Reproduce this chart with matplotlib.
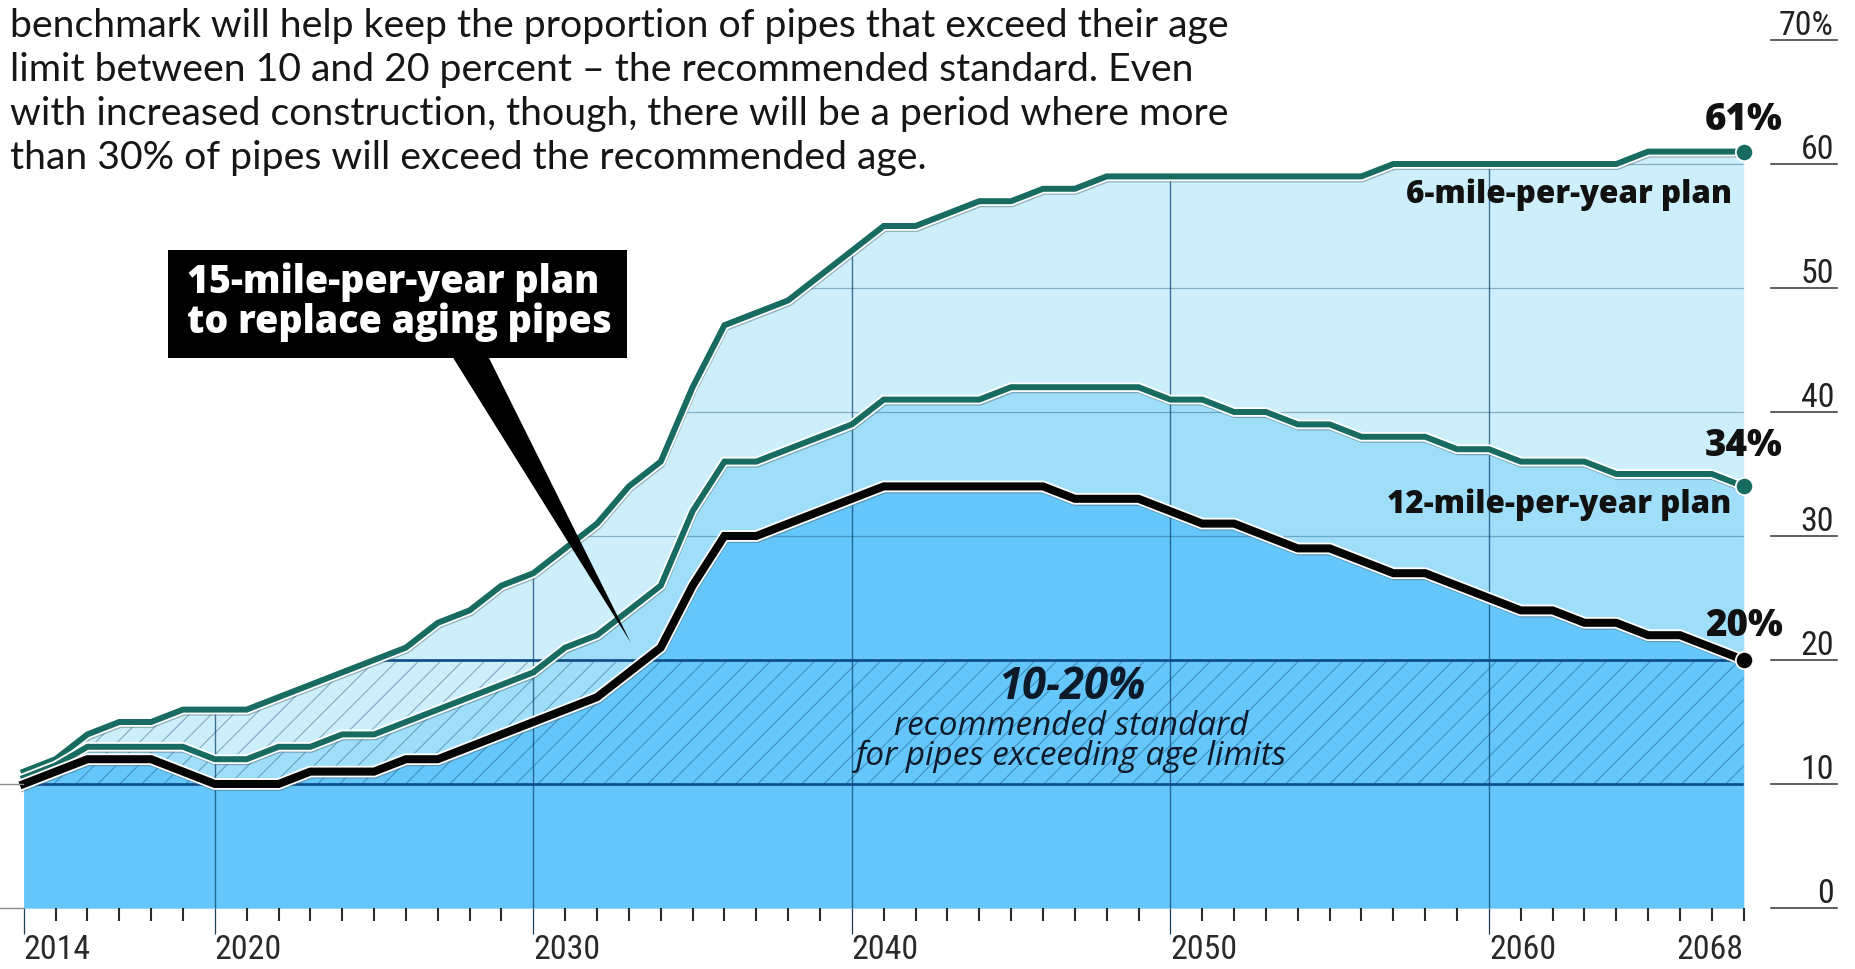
import numpy as np
import matplotlib
matplotlib.use("Agg")
import matplotlib.pyplot as plt
from matplotlib import patheffects as pe
from matplotlib import font_manager as fm
from matplotlib.font_manager import FontProperties
from matplotlib.collections import LineCollection
from matplotlib.patches import Polygon, Rectangle
from matplotlib.path import Path
from matplotlib.transforms import IdentityTransform, blended_transform_factory

# ---------------------------------------------------------------- data
years = np.arange(2014, 2069)

# Share of pipes exceeding their age limit (%) under each replacement plan
plan_6_mile = [11, 12, 14, 15, 15, 16, 16, 16, 17, 18, 19, 20, 21, 23, 24, 26, 27,
               29, 31, 34, 36, 42, 47, 48, 49, 51, 53, 55, 55, 56, 57, 57, 58, 58,
               59, 59, 59, 59, 59, 59, 59, 59, 59,
               60, 60, 60, 60, 60, 60, 60, 60,
               61, 61, 61, 61]
plan_12_mile = [10.5, 11.5, 13, 13, 13, 13, 12, 12, 13, 13, 14, 14, 15, 16, 17, 18,
                19, 21, 22, 24, 26, 32, 36, 36, 37, 38, 39, 41, 41, 41, 41,
                42, 42, 42, 42, 42, 41, 41, 40, 40, 39, 39, 38, 38, 38, 37, 37,
                36, 36, 36, 35, 35, 35, 35, 34]
plan_15_mile = [10, 11, 12, 12, 12, 11, 10, 10, 10, 11, 11, 11, 12, 12, 13, 14, 15,
                16, 17, 19, 21, 26, 30, 30, 31, 32, 33, 34, 34, 34, 34, 34, 34,
                33, 33, 33, 32, 31, 31, 30, 29, 29, 28, 27, 27, 26, 25, 24, 24,
                23, 23, 22, 22, 21, 20]

standard_low, standard_high = 10, 20
grid_levels = [30, 40, 50, 60]
y_ticks = [0, 10, 20, 30, 40, 50, 60, 70]
y_tick_labels = ["0", "10", "20", "30", "40", "50", "60", "70%"]
x_major = [2014, 2020, 2030, 2040, 2050, 2060]
x_labeled = [2014, 2020, 2030, 2040, 2050, 2060, 2068]
x_gridlines = [2020, 2030, 2040, 2050, 2060]

intro_lines = [
    "benchmark will help keep the proportion of pipes that exceed their age",
    "limit between 10 and 20 percent \u2013 the recommended standard. Even",
    "with increased construction, though, there will be a period where more",
    "than 30% of pipes will exceed the recommended age.",
]
callout_lines = ["15-mile-per-year plan", "to replace aging pipes"]
band_title = "10-20%"
band_lines = ["recommended standard", "for pipes exceeding age limits"]

# ---------------------------------------------------------------- fonts
_faces = fm.fontManager.ttflist
_names = {f.name for f in _faces}


def pick(*names):
    for n in names:
        if n in _names:
            return n
    return "DejaVu Sans"


def pick_italic(*names):
    for n in names:
        if any(f.name == n and f.style == "italic" for f in _faces):
            return n
    return "DejaVu Sans"


def heaviest(name, cap=800):
    ws = [f.weight for f in _faces if f.name == name and f.style == "normal"
          and isinstance(f.weight, int) and f.weight <= cap]
    return max(ws) if ws else "bold"


def light_props():
    """Condensed face for the scale numbers, or a light/regular face as fallback."""
    for n in ("Liberation Sans Narrow", "Roboto Condensed", "Open Sans Condensed",
              "Noto Sans Condensed", "DejaVu Sans Condensed"):
        if n in _names:
            return FontProperties(family=n)
    for n in ("Noto Sans", "Open Sans", "Roboto", "DejaVu Sans"):
        for f in _faces:
            if f.name == n and f.stretch in ("condensed", "semi-condensed") \
                    and f.style == "normal" and f.weight in (300, 400):
                return FontProperties(family=n, stretch=f.stretch, weight=f.weight)
    for n in ("Lato", "Roboto", "Open Sans"):
        for f in _faces:
            if f.name == n and f.style == "normal" and f.weight == 300:
                return FontProperties(family=n, weight=300)
    return FontProperties(family=pick("Liberation Sans", "DejaVu Sans"))


body_font = pick("Lato", "Open Sans", "Noto Sans", "DejaVu Sans")
bold_font = pick("Open Sans", "Lato", "Noto Sans", "DejaVu Sans")
bold_weight = heaviest(bold_font)
italic_font = pick_italic("Open Sans", "Lato", "Noto Sans", "Roboto", "DejaVu Sans")
num_props = light_props()

# ---------------------------------------------------------------- colours
c_light = "#cdeffb"
c_mid = "#9fdef8"
c_dark = "#64c6fa"
teal = "#176b61"
navy = "#0c4a86"
ink = "#0d1a2a"

# ---------------------------------------------------------------- figure
W, H, DPI = 1855, 969, 100
fig = plt.figure(figsize=(W / DPI, H / DPI), dpi=DPI)
fig.patch.set_facecolor("white")

ax = fig.add_axes([23.7 / W, 61 / H, 1720 / W, 868 / H])
ax.set_xlim(2014, 2068)
ax.set_ylim(0, 70)
ax.set_facecolor("none")
for s in ax.spines.values():
    s.set_visible(False)
ax.set_yticks([])

six = np.array(plan_6_mile, dtype=float)
twelve = np.array(plan_12_mile, dtype=float)
fifteen = np.array(plan_15_mile, dtype=float)

# stacked area fills
env = ax.fill_between(years, 0, six, color=c_light, lw=0, zorder=1)
ax.fill_between(years, 0, twelve, color=c_mid, lw=0, zorder=1.1)
ax.fill_between(years, 0, fifteen, color=c_dark, lw=0, zorder=1.2)
env_path = env.get_paths()[0]

# grid lines, only inside the filled area
for v in grid_levels:
    ln = ax.axhline(v, color=(0.12, 0.36, 0.5, 0.42), lw=0.9, zorder=2)
    ln.set_clip_path(env_path, ax.transData)
for x in x_gridlines:
    ln = ax.axvline(x, color=(0.05, 0.28, 0.45, 0.75), lw=1.0, zorder=2)
    ln.set_clip_path(env_path, ax.transData)

# hatched band for the recommended standard
band_top = np.minimum(six, standard_high)
verts = list(zip(years, band_top)) + list(zip(years[::-1], [standard_low] * len(years)))
band_path = Path(verts + [verts[0]], closed=True)
x0, y10 = ax.transData.transform((2014, standard_low))
x1, y20 = ax.transData.transform((2068, standard_high))
hh = y20 - y10
spacing = 22.0
segs = [[(xs, y10), (xs + hh, y20)] for xs in np.arange(x0 - hh, x1 + spacing, spacing)]
hatch = LineCollection(segs, colors=[(0.04, 0.24, 0.42, 0.42)], linewidths=0.75,
                       transform=IdentityTransform(), zorder=1.6)
hatch.set_clip_path(band_path, ax.transData)
ax.add_collection(hatch, autolim=False)

for v in (standard_low, standard_high):
    ln = ax.axhline(v, color=navy, lw=1.9, zorder=2.2)
    ln.set_clip_path(env_path, ax.transData)


def line_effects(lw):
    return [pe.Stroke(offset=(0.5, -1.4), linewidth=lw + 1.6, foreground="#4f6870", alpha=0.45),
            pe.Stroke(linewidth=lw + 2.6, foreground="white"),
            pe.Normal()]


ax.plot(years, six, color=teal, lw=4.3, solid_joinstyle="miter", zorder=4,
        clip_on=False, path_effects=line_effects(4.3))
ax.plot(years, twelve, color=teal, lw=4.3, solid_joinstyle="miter", zorder=4.1,
        clip_on=False, path_effects=line_effects(4.3))
ax.plot(years, fifteen, color="#050505", lw=5.8, solid_joinstyle="miter", zorder=4.2,
        clip_on=False, path_effects=line_effects(5.8))

for series, col in ((six, teal), (twelve, teal), (fifteen, "#050505")):
    ax.plot([years[-1]], [series[-1]], "o", ms=12.5, mfc=col, mec="white", mew=1.3,
            clip_on=False, zorder=6)

# ---------------------------------------------------------------- text helpers
fig.canvas.draw()
renderer = fig.canvas.get_renderer()


def fit(t, target_px):
    w = t.get_window_extent(renderer).width
    t.set_fontsize(t.get_fontsize() * target_px / w)
    return t.get_fontsize()


# intro paragraph
intro = []
for i, line in enumerate(intro_lines):
    intro.append(fig.text(10 / W, 1 - (37.5 + i * 43.7) / H, line, ha="left", va="baseline",
                          family=body_font, fontsize=22, color="#161616"))
size = fit(intro[0], 1216)
for t in intro[1:]:
    t.set_fontsize(size)

# end-point value labels
end_offsets = (22, 30, 24)
end_labels = []
for series, dy in zip((six, twelve, fifteen), end_offsets):
    end_labels.append(ax.annotate(f"{series[-1]:.0f}%", xy=(years[-1], series[-1]),
                                  xytext=(0, dy), textcoords="offset pixels", ha="center",
                                  va="baseline", family=bold_font, fontweight=bold_weight,
                                  fontsize=18, color="#111111", zorder=7,
                                  annotation_clip=False))
size = fit(end_labels[0], 78)
for t in end_labels[1:]:
    t.set_fontsize(size)

# plan name labels
lab6 = ax.annotate("6-mile-per-year plan", xy=(years[-1], six[-1]), xytext=(-12, -51),
                   textcoords="offset pixels", ha="right", va="baseline", family=bold_font,
                   fontweight=bold_weight, fontsize=18, color="#111111", zorder=7)
lab12 = ax.annotate("12-mile-per-year plan", xy=(years[-1], twelve[-1]), xytext=(-12, -27),
                    textcoords="offset pixels", ha="right", va="baseline", family=bold_font,
                    fontweight=bold_weight, fontsize=18, color="#111111", zorder=7)
size = fit(lab12, 343)
lab6.set_fontsize(size)

# recommended standard labels
mid_x = 2046.9
t1 = ax.text(mid_x, 16.85, band_title, ha="center", va="baseline", family=italic_font,
             style="italic", fontweight="bold", fontsize=22, color=ink, zorder=7)
fit(t1, 147)
t2 = ax.text(mid_x, 13.95, band_lines[0], ha="center", va="baseline", family=italic_font,
             style="italic", fontsize=18, color=ink, zorder=7)
t3 = ax.text(mid_x, 11.55, band_lines[1], ha="center", va="baseline", family=italic_font,
             style="italic", fontsize=18, color=ink, zorder=7)
size = fit(t3, 432)
t2.set_fontsize(size)

# right-hand value scale with underlines
tr = blended_transform_factory(fig.transFigure, ax.transData)
rlabels = []
for v, lab in zip(y_ticks, y_tick_labels):
    ax.plot([1771 / W, 1837 / W], [v, v], color="#333333", lw=1.1, transform=tr,
            clip_on=False, zorder=5)
    rlabels.append(ax.annotate(lab, xy=(1834 / W, v), xycoords=tr, xytext=(0, 5),
                               textcoords="offset pixels", ha="right", va="baseline",
                               fontproperties=num_props.copy(), fontsize=20,
                               color="#222222", annotation_clip=False))
scale_size = fit(rlabels[-1], 55)
for t in rlabels[:-1]:
    t.set_fontsize(scale_size)

# short stubs left of the plot at 0 and 10
for v in (0, standard_low):
    ax.plot([0, 23 / W], [v, v], color="#8d8d8d", lw=1.0, transform=tr, clip_on=False,
            zorder=5)

# x axis: long ticks at decades, short ticks every year, year labels beside the ticks
ax.set_xticks(x_major)
ax.set_xticks(years, minor=True)
ax.tick_params(axis="x", which="major", direction="out", length=19, width=0.9,
               color="#1d3f58", labelbottom=False)
ax.tick_params(axis="x", which="minor", direction="out", length=9, width=1.5,
               color="#2a2a2a")
for yr in x_labeled:
    ax.annotate(str(yr), xy=(yr, 0), xytext=(0, -51), textcoords="offset pixels",
                ha="right" if yr == x_labeled[-1] else "left", va="baseline",
                fontproperties=num_props.copy(), fontsize=scale_size, color="#2a2a2a",
                annotation_clip=False)

# ---------------------------------------------------------------- callout box
fig.canvas.draw()
tip = ax.transData.transform((2033.06, 21.4))
box = Rectangle((168, H - 358), 459, 108, transform=IdentityTransform(),
                facecolor="black", edgecolor="none", zorder=8)
fig.add_artist(box)
pointer = Polygon([(452, H - 356), (488, H - 356), (tip[0], tip[1])], closed=True,
                  transform=IdentityTransform(), facecolor="black", edgecolor="none", zorder=8)
fig.add_artist(pointer)
c1 = fig.text(187 / W, 1 - 293 / H, callout_lines[0], ha="left", va="baseline",
              family=bold_font, fontweight=bold_weight, fontsize=22, color="white", zorder=9)
size = fit(c1, 412)
fig.text(187 / W, 1 - 333 / H, callout_lines[1], ha="left", va="baseline",
         family=bold_font, fontweight=bold_weight, fontsize=size, color="white", zorder=9)

fig.savefig("out.png", dpi=DPI, facecolor="white")
